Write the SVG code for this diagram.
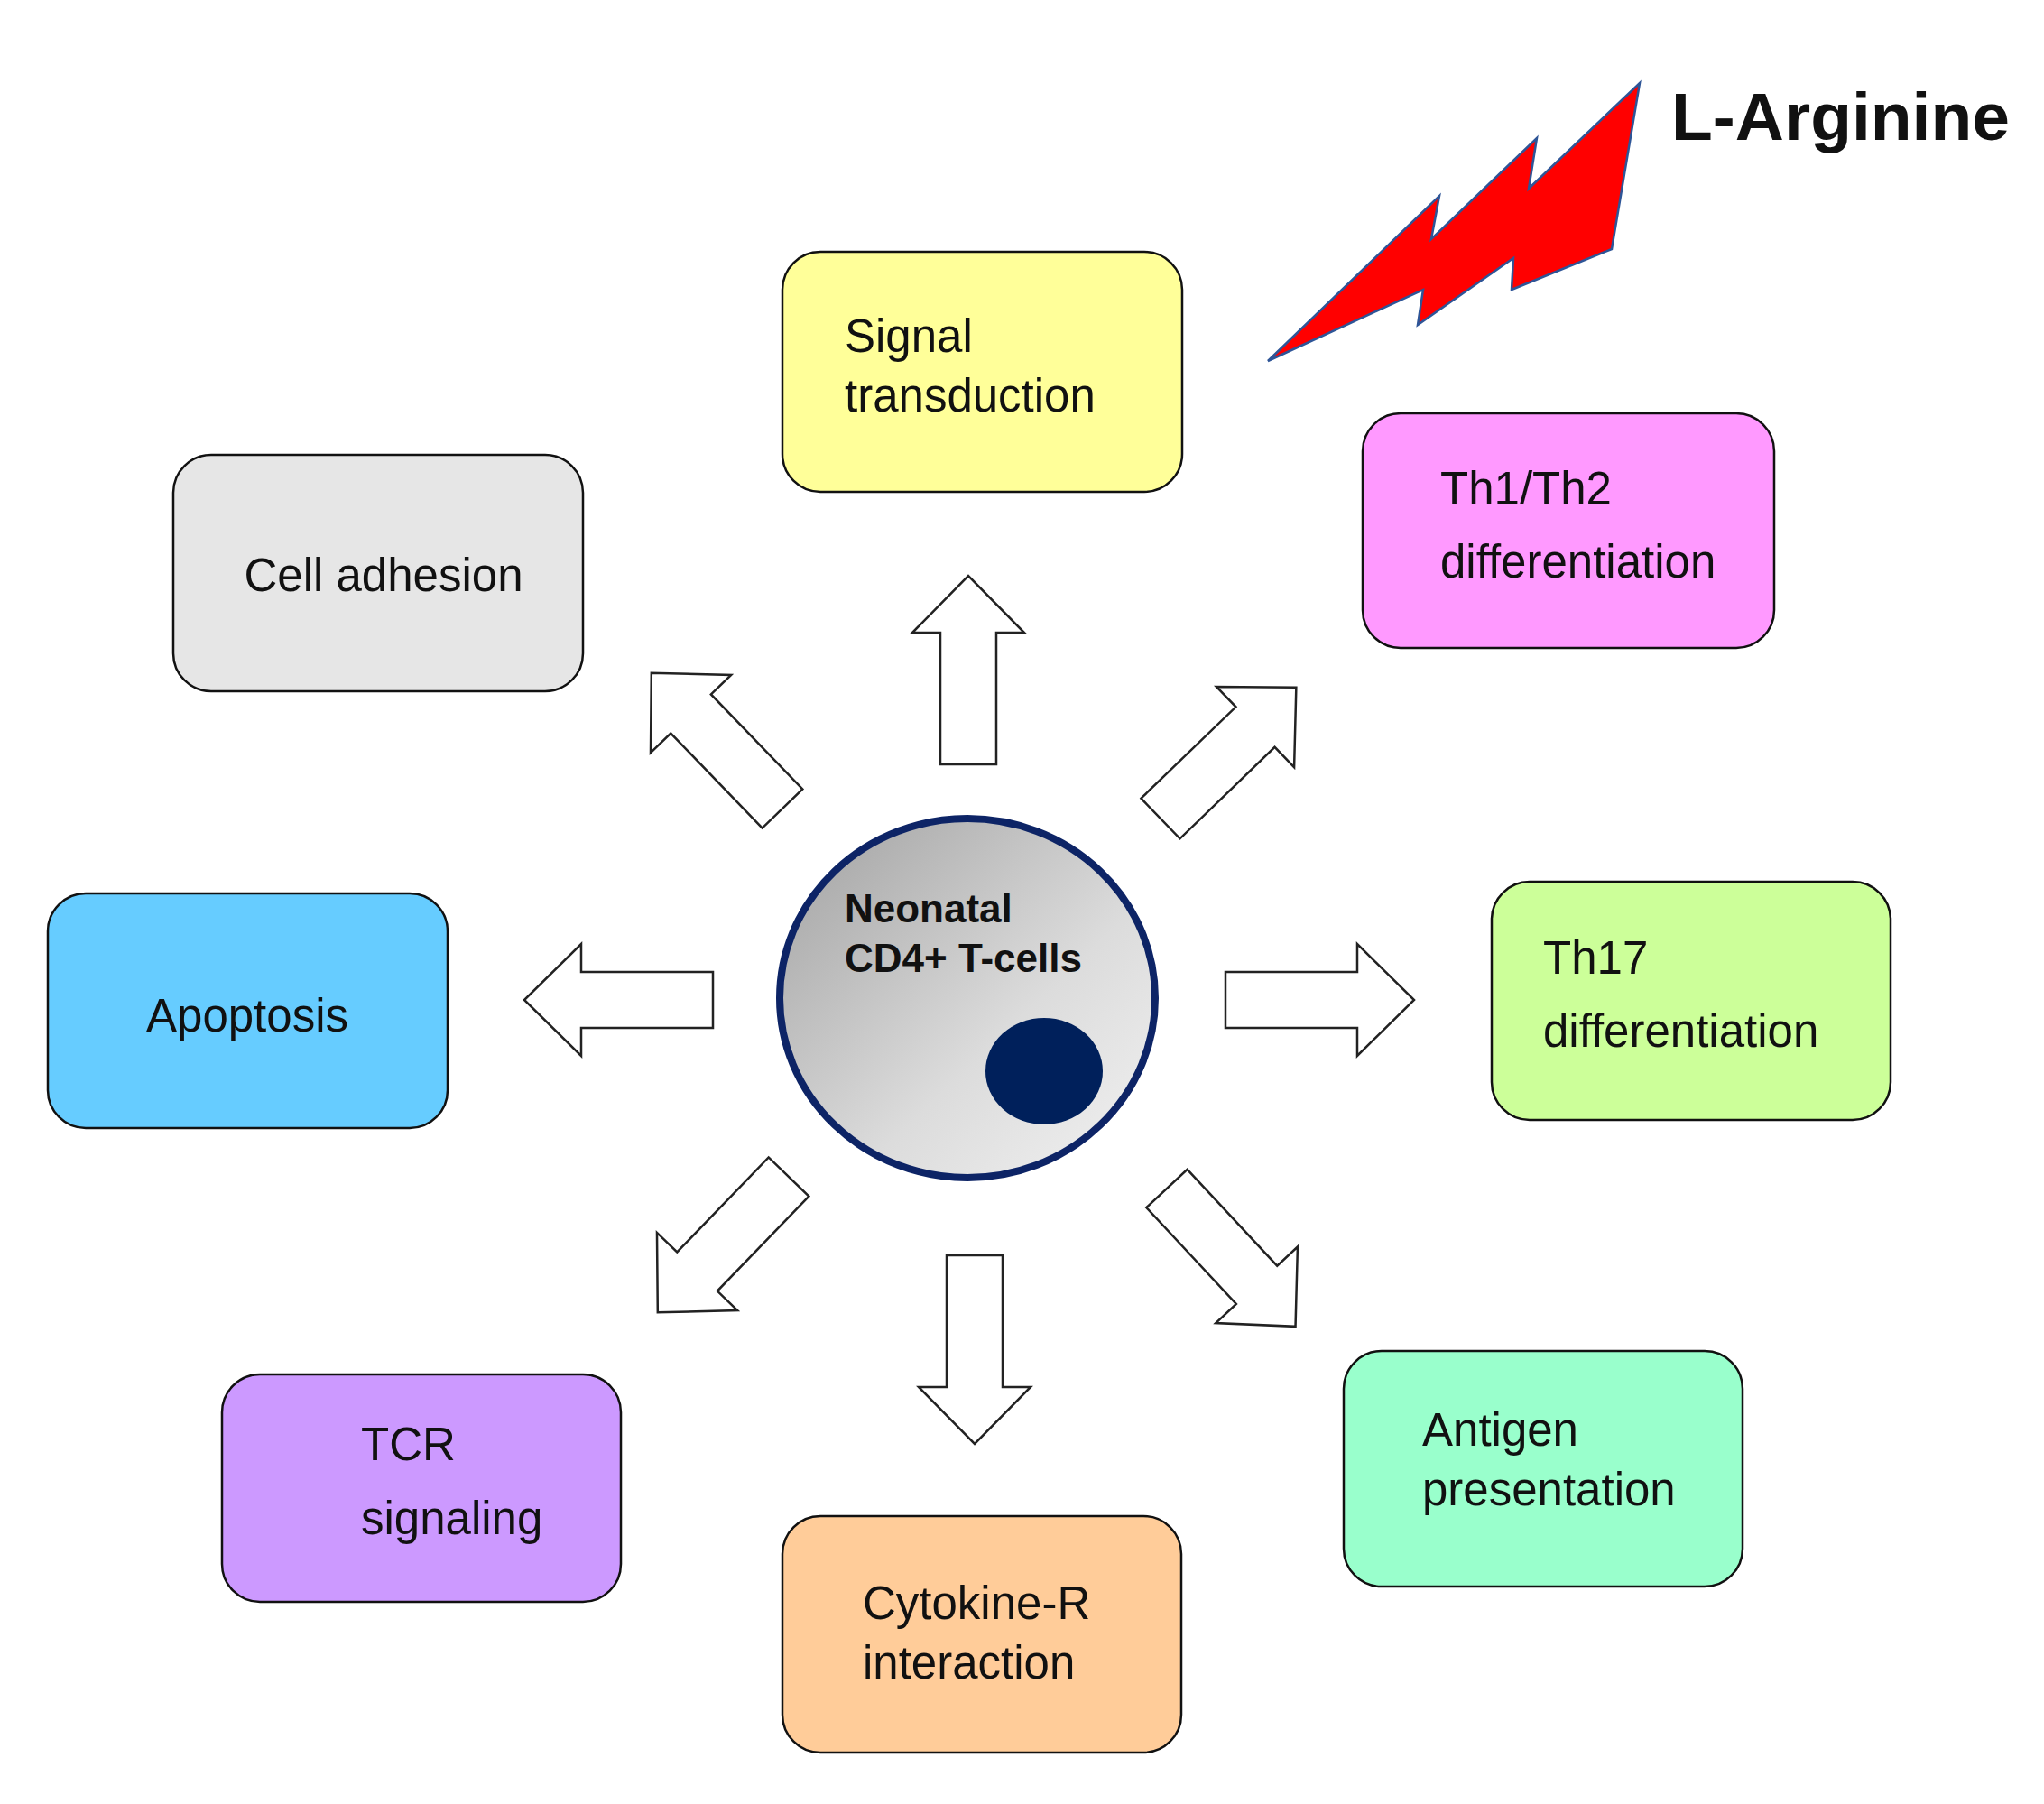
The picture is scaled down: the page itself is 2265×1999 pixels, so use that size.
<svg xmlns="http://www.w3.org/2000/svg" width="2265" height="1999" viewBox="0 0 2265 1999">
<style>
.box{stroke:#111;stroke-width:2.5}
.t{font-family:"Liberation Sans",Arial,sans-serif;font-size:51px;fill:#111}
.arr{fill:#fff;stroke:#222;stroke-width:2.5}
</style>
<defs>
<path id="a" d="M0,-31 L146,-31 L146,-62 L209,0 L146,62 L146,31 L0,31 Z"/>
<linearGradient id="g" x1="0" y1="0" x2="1" y2="1">
<stop offset="0" stop-color="#a0a0a0"/><stop offset="0.6" stop-color="#dcdcdc"/><stop offset="1" stop-color="#f2f2f2"/>
</linearGradient>
</defs>
<rect width="2265" height="1999" fill="#fff"/>
<g id="larginine">
<polygon points="1405,400 1595,217 1586,265 1703,153 1694,209 1817,92 1786,276 1675,321 1677,286 1571,360 1577,321" fill="#ff0000" stroke="#2e5597" stroke-width="2.5"/>
<text x="1852" y="155" style="font-family:'Liberation Sans',Arial,sans-serif;font-weight:bold;font-size:75px" fill="#111">L-Arginine</text>
</g>
<g id="signal"><rect class="box" x="867" y="279" width="443" height="266" rx="42" fill="#ffff99"/>
<text class="t" x="936" y="390">Signal</text><text class="t" x="936" y="456">transduction</text></g>
<g id="adhesion"><rect class="box" x="192" y="504" width="454" height="262" rx="42" fill="#e6e6e6"/>
<text class="t" x="425" y="655" text-anchor="middle">Cell adhesion</text></g>
<g id="th1th2"><rect class="box" x="1510" y="458" width="456" height="260" rx="42" fill="#ff99ff"/>
<text class="t" x="1596" y="559">Th1/Th2</text><text class="t" x="1596" y="640">differentiation</text></g>
<g id="apoptosis"><rect class="box" x="53" y="990" width="443" height="260" rx="42" fill="#66ccff"/>
<text class="t" x="274" y="1143" text-anchor="middle">Apoptosis</text></g>
<g id="th17"><rect class="box" x="1653" y="977" width="442" height="264" rx="42" fill="#ccff99"/>
<text class="t" x="1710" y="1079">Th17</text><text class="t" x="1710" y="1160">differentiation</text></g>
<g id="tcr"><rect class="box" x="246" y="1523" width="442" height="252" rx="42" fill="#cc99ff"/>
<text class="t" x="400" y="1618">TCR</text><text class="t" x="400" y="1700">signaling</text></g>
<g id="cytokine"><rect class="box" x="867" y="1680" width="442" height="262" rx="42" fill="#ffcc99"/>
<text class="t" x="956" y="1794">Cytokine-R</text><text class="t" x="956" y="1860">interaction</text></g>
<g id="antigen"><rect class="box" x="1489" y="1497" width="442" height="261" rx="42" fill="#99ffcc"/>
<text class="t" x="1576" y="1602">Antigen</text><text class="t" x="1576" y="1668">presentation</text></g>
<g id="cell">
<ellipse cx="1072" cy="1106" rx="208" ry="199" fill="url(#g)" stroke="#0d2466" stroke-width="8"/>
<ellipse cx="1157" cy="1187" rx="65" ry="59" fill="#00205b"/>
<text x="936" y="1022" style="font-family:'Liberation Sans',Arial,sans-serif;font-weight:bold;font-size:44px" fill="#111">Neonatal</text>
<text x="936" y="1077" style="font-family:'Liberation Sans',Arial,sans-serif;font-weight:bold;font-size:44px" fill="#111">CD4+ T-cells</text>
</g>
<g id="connectors">
<use href="#a" class="arr" transform="translate(1073,847) rotate(-90)"/>
<use href="#a" class="arr" transform="translate(1080,1391) rotate(90)"/>
<use href="#a" class="arr" transform="translate(1358,1108)"/>
<use href="#a" class="arr" transform="translate(790,1108) rotate(180)"/>
<use href="#a" class="arr" transform="translate(1286,907) rotate(-44)"/>
<use href="#a" class="arr" transform="translate(867,896) rotate(-134)"/>
<use href="#a" class="arr" transform="translate(874,1304) rotate(134)"/>
<use href="#a" class="arr" transform="translate(1293,1317) rotate(47)"/>
</g>
</svg>
